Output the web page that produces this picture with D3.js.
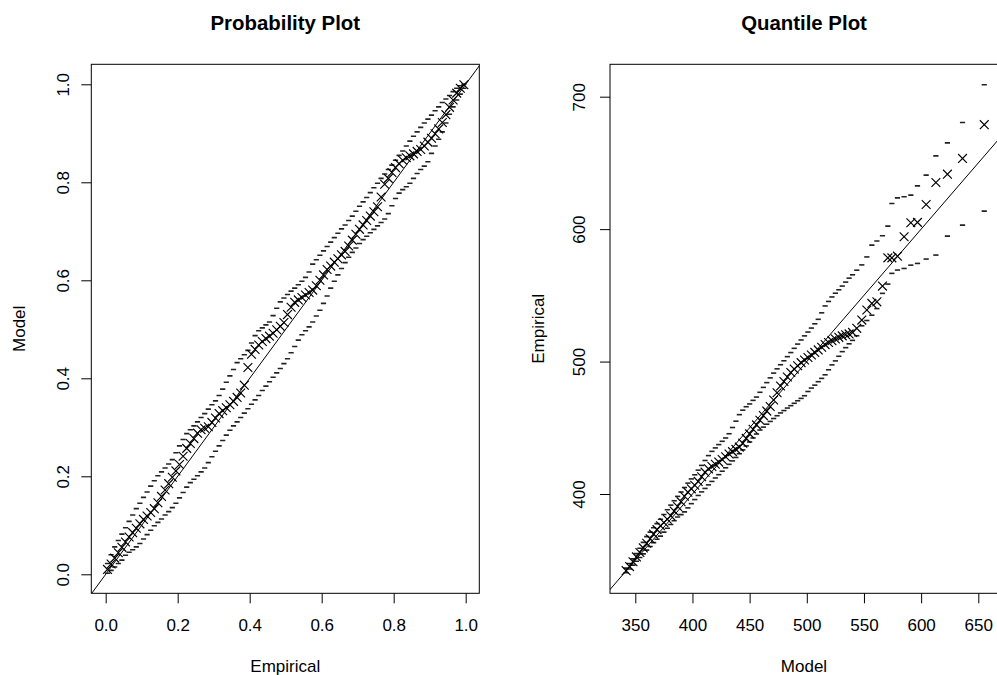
<!DOCTYPE html>
<html>
<head>
<meta charset="utf-8">
<script src="https://cdn.jsdelivr.net/npm/d3@7"></script>
<style>
html,body{margin:0;padding:0;background:#fff;}
svg{display:block;}
text{font-family:"Liberation Sans",Arial,Helvetica,sans-serif;fill:#000;}
</style>
</head>
<body>
<svg id="chart" width="997" height="675"></svg>
<script>
// ---------------- DATA ----------------
// Probability plot: empirical probability (x), model probability (y), lower/upper bands
const probEmpirical = [
0.005,0.015,0.025,0.035,0.045,0.055,0.065,0.075,0.085,0.095,
0.105,0.115,0.125,0.135,0.145,0.155,0.165,0.175,0.185,0.195,
0.205,0.215,0.225,0.235,0.245,0.255,0.265,0.275,0.285,0.295,
0.305,0.315,0.325,0.335,0.345,0.355,0.365,0.375,0.385,0.395,
0.405,0.415,0.425,0.435,0.445,0.455,0.465,0.475,0.485,0.495,
0.505,0.515,0.525,0.535,0.545,0.555,0.565,0.575,0.585,0.595,
0.605,0.615,0.625,0.635,0.645,0.655,0.665,0.675,0.685,0.695,
0.705,0.715,0.725,0.735,0.745,0.755,0.765,0.775,0.785,0.795,
0.805,0.815,0.825,0.835,0.845,0.855,0.865,0.875,0.885,0.895,
0.905,0.915,0.925,0.935,0.945,0.955,0.965,0.975,0.985,0.995];
const probModel = [
0.010,0.021,0.033,0.044,0.055,0.066,0.076,0.085,0.094,0.103,
0.112,0.119,0.126,0.134,0.146,0.159,0.172,0.185,0.198,0.211,
0.224,0.241,0.257,0.267,0.277,0.288,0.295,0.298,0.301,0.310,
0.319,0.328,0.334,0.340,0.346,0.353,0.361,0.370,0.386,0.422,
0.449,0.459,0.468,0.475,0.481,0.486,0.492,0.499,0.506,0.514,
0.530,0.545,0.555,0.560,0.565,0.570,0.575,0.580,0.589,0.600,
0.611,0.622,0.629,0.637,0.644,0.652,0.659,0.670,0.682,0.694,
0.704,0.713,0.722,0.731,0.740,0.750,0.770,0.796,0.808,0.820,
0.830,0.838,0.845,0.850,0.854,0.858,0.863,0.867,0.874,0.882,
0.890,0.899,0.909,0.922,0.938,0.953,0.968,0.982,0.992,0.999];
const probUpper = [
0.022,0.040,0.056,0.069,0.082,0.095,0.108,0.121,0.134,0.145,
0.157,0.168,0.180,0.191,0.201,0.209,0.217,0.225,0.234,0.248,
0.262,0.275,0.287,0.295,0.303,0.311,0.320,0.328,0.337,0.346,
0.354,0.365,0.378,0.392,0.405,0.418,0.432,0.440,0.448,0.457,
0.472,0.487,0.497,0.503,0.509,0.515,0.528,0.543,0.556,0.564,
0.571,0.578,0.584,0.591,0.598,0.606,0.617,0.633,0.642,0.651,
0.660,0.669,0.678,0.687,0.696,0.705,0.713,0.722,0.731,0.741,
0.751,0.760,0.769,0.779,0.789,0.798,0.808,0.817,0.826,0.835,
0.845,0.855,0.864,0.874,0.884,0.894,0.903,0.912,0.921,0.929,
0.937,0.946,0.954,0.963,0.970,0.977,0.985,0.992,0.997,1.000];
const probLower = [
0.002,0.008,0.015,0.022,0.029,0.039,0.045,0.050,0.056,0.063,
0.072,0.081,0.090,0.099,0.106,0.113,0.121,0.128,0.136,0.145,
0.156,0.167,0.178,0.187,0.194,0.201,0.209,0.217,0.228,0.240,
0.251,0.262,0.273,0.284,0.294,0.303,0.311,0.320,0.329,0.338,
0.347,0.356,0.365,0.375,0.384,0.393,0.402,0.411,0.420,0.430,
0.440,0.452,0.465,0.478,0.489,0.497,0.505,0.515,0.527,0.539,
0.553,0.568,0.584,0.598,0.611,0.624,0.636,0.647,0.657,0.666,
0.675,0.683,0.690,0.697,0.704,0.711,0.718,0.725,0.736,0.752,
0.767,0.778,0.785,0.791,0.798,0.808,0.818,0.826,0.833,0.842,
0.859,0.874,0.888,0.903,0.921,0.939,0.954,0.968,0.980,0.992];

// Quantile plot: model quantile (x), empirical quantile (y), lower/upper bands
const quantModel = [
342,345,348,351,354,357,360,363,366,369,
372,375,378,381,384,387,390,393,396,399,
402,405,408,411,414,417,420,423,426,429,
432,435,438,441,444,447,450,453,456,459,
462,465,468,471,474,477,480,483,486,489,
492,495,498,501,504,507,510,513,516,519,
522,525,528,531,534,537,540,
543.7,548.1,552.5,556.9,561.3,566.2,570.9,574.4,579.3,585.1,591.0,596.8,604.4,612.9,623.0,636.2,655.2];
const quantEmpirical = [
342.1,345.2,348.8,352.5,355.8,359.3,362.8,366.2,369.7,373.1,
376.0,378.5,380.9,383.5,387.1,390.6,394.2,398.3,401.4,403.9,
406.6,409.5,413.0,416.5,419.0,420.8,422.5,424.1,426.0,428.1,
430.2,432.0,433.7,435.4,438.4,442.0,445.4,448.9,452.2,455.7,
459.2,462.6,466.1,471.0,476.5,481.5,484.9,488.3,491.7,494.3,
496.8,499.2,501.2,503.1,505.0,506.9,508.8,510.8,512.8,514.4,
515.8,517.0,518.3,519.4,520.2,520.9,522.0,
525.1,531.3,538.9,543.9,545.1,557.0,578.3,578.3,579.6,594.2,604.8,605.1,618.6,635.2,641.5,653.4,678.9];
const quantUpper = [
344,347.5,351,355,359,363.5,367.8,371.2,374.5,377.6,
380.9,384.5,388.1,391.6,394.9,398.2,401.5,404.9,408.2,411.4,
414.5,418.0,421.6,425.3,429.0,432.2,434.8,437.3,439.8,442.3,
445.5,450.2,455.0,459.9,463.3,465.9,468.0,470.7,473.2,476.8,
480.5,484.1,487.7,491.3,494.5,497.6,500.6,503.7,506.8,510.0,
513.2,516.3,519.4,522.3,525.3,528.5,531.9,536.8,542.0,545.4,
548.8,551.6,554.2,557.0,560.0,563.0,565.5,
569,573,579,587.9,591,595.0,602.3,619.4,623.6,624.4,625.7,632.7,640.8,655.3,665.1,680.5,709.0];
const quantLower = [
340.5,343.4,346.3,349.2,352.0,354.8,357.6,360.4,363.3,365.8,
368.2,371.2,374.1,377.0,379.8,382.6,384.4,386.5,389.5,392.7,
395.8,398.9,401.6,404.2,406.9,409.5,412.1,414.6,417.2,419.8,
422.4,425.0,427.6,430.4,433.3,436.3,439.3,442.3,445.3,448.3,
450.5,452.7,454.8,457.0,459.1,461.2,463.0,464.9,466.7,468.5,
470.4,472.2,474.2,477.4,480.0,482.2,484.8,487.3,490.0,493.8,
497.5,500.5,504.0,507.5,510.5,513.4,516.0,
519.5,527,531,535,540,551.5,558.5,566.6,569.1,570.3,572.8,574.1,577.4,580.4,594.7,603.0,613.6];

// Tick values
const probTicks = [0, 0.2, 0.4, 0.6, 0.8, 1.0];
const quantXTicks = [350, 400, 450, 500, 550, 600, 650];
const quantYTicks = [400, 500, 600, 700];

// Titles / labels
const titles = ["Probability Plot", "Quantile Plot"];
const xLabels = ["Empirical", "Model"];
const yLabels = ["Model", "Empirical"];

// ---------------- DRAW ----------------
const svg = d3.select("#chart");

const panels = [
  {
    box: {x0: 91.3, x1: 479.3, y0: 64.3, y1: 593.3},
    x: d3.scaleLinear().domain([0, 1]).range([105.7, 465.7]),
    y: d3.scaleLinear().domain([0, 1]).range([574.3, 84.3]),
    xTicks: probTicks, yTicks: probTicks, fmt: d3.format(".1f"),
    xs: probEmpirical, ys: probModel, lo: probLower, hi: probUpper,
    title: titles[0], xLab: xLabels[0], yLab: yLabels[0],
    yTickLabelOff: -22.8, yLabX: 25
  },
  {
    box: {x0: 610, x1: 998, y0: 64.3, y1: 593.3},
    x: d3.scaleLinear().domain([350, 650]).range([635.3, 978.3]),
    y: d3.scaleLinear().domain([400, 700]).range([494, 96.7]),
    xTicks: quantXTicks, yTicks: quantYTicks, fmt: d3.format("d"),
    xs: quantModel, ys: quantEmpirical, lo: quantLower, hi: quantUpper,
    title: titles[1], xLab: xLabels[1], yLab: yLabels[1],
    yTickLabelOff: -25, yLabX: 543.5
  }
];

panels.forEach((p, i) => {
  const b = p.box;
  const g = svg.append("g");
  const clipId = "clip" + i;
  svg.append("clipPath").attr("id", clipId)
    .append("rect").attr("x", b.x0).attr("y", b.y0)
    .attr("width", b.x1 - b.x0).attr("height", b.y1 - b.y0);

  const plot = g.append("g").attr("clip-path", `url(#${clipId})`);

  // reference line y = x
  const dMin = Math.min(p.x.invert(b.x0), p.y.invert(b.y1));
  const dMax = Math.max(p.x.invert(b.x1), p.y.invert(b.y0));
  plot.append("line")
    .attr("x1", p.x(dMin)).attr("y1", p.y(dMin))
    .attr("x2", p.x(dMax)).attr("y2", p.y(dMax))
    .attr("stroke", "#000").attr("stroke-width", 1);

  // band markers "-"
  const dash = (arr) => {
    plot.append("g").selectAll("line").data(p.xs).join("line")
      .attr("x1", (d) => p.x(d) - 2.6).attr("x2", (d) => p.x(d) + 2.6)
      .attr("y1", (d, k) => p.y(arr[k])).attr("y2", (d, k) => p.y(arr[k]))
      .attr("stroke", "#222").attr("stroke-width", 1.6);
  };
  dash(p.lo);
  dash(p.hi);

  // × markers
  const s = 4.4;
  plot.append("g").selectAll("path").data(p.xs).join("path")
    .attr("d", (d, k) => {
      const cx = p.x(d), cy = p.y(p.ys[k]);
      return `M${cx - s},${cy - s}L${cx + s},${cy + s}M${cx - s},${cy + s}L${cx + s},${cy - s}`;
    })
    .attr("fill", "none").attr("stroke", "#000").attr("stroke-width", 1.15);

  // box
  g.append("rect")
    .attr("x", b.x0).attr("y", b.y0)
    .attr("width", b.x1 - b.x0).attr("height", b.y1 - b.y0)
    .attr("fill", "none").attr("stroke", "#000").attr("stroke-width", 1);

  // x axis
  const xa = g.append("g").attr("transform", `translate(0,${b.y1})`)
    .call(d3.axisBottom(p.x).tickValues(p.xTicks).tickSize(10).tickFormat(p.fmt));
  xa.select(".domain").remove();
  xa.selectAll("line").attr("stroke", "#000");
  xa.selectAll("text").attr("y", 37.7).attr("dy", null)
    .style("font-size", "17px").style("font-family", '"Liberation Sans",Arial,sans-serif').attr("fill", "#000");

  // y axis
  const ya = g.append("g").attr("transform", `translate(${b.x0},0)`)
    .call(d3.axisLeft(p.y).tickValues(p.yTicks).tickSize(10).tickFormat(p.fmt));
  ya.select(".domain").remove();
  ya.selectAll("line").attr("stroke", "#000");
  ya.selectAll("text")
    .attr("x", 0).attr("y", p.yTickLabelOff).attr("dy", null)
    .attr("transform", "rotate(-90)")
    .attr("text-anchor", "middle")
    .style("font-size", "17px").style("font-family", '"Liberation Sans",Arial,sans-serif').attr("fill", "#000");

  const cx = (b.x0 + b.x1) / 2, cy = (b.y0 + b.y1) / 2;
  // title
  g.append("text").attr("x", cx).attr("y", 30)
    .attr("text-anchor", "middle").style("font-size", "20.4px").style("font-weight", "bold")
    .text(p.title);
  // x label
  g.append("text").attr("x", cx).attr("y", 672)
    .attr("text-anchor", "middle").style("font-size", "17px").text(p.xLab);
  // y label
  g.append("text").attr("transform", `translate(${p.yLabX},${cy}) rotate(-90)`)
    .attr("text-anchor", "middle").style("font-size", "17px").text(p.yLab);
});
</script>
</body>
</html>
